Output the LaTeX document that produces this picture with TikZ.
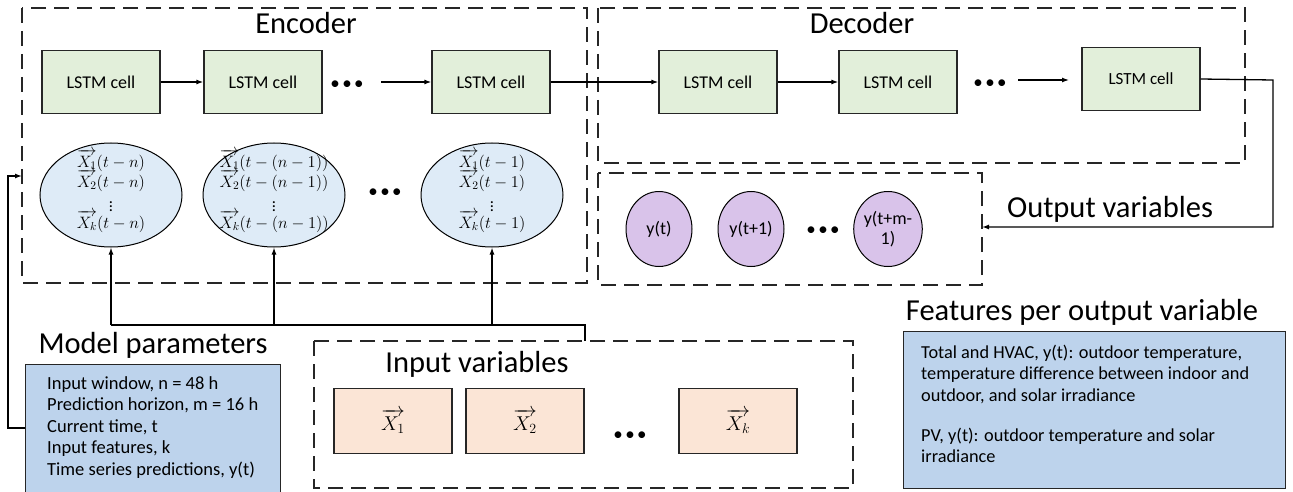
\RequirePackage{fix-cm}
\documentclass[tikz,border=0pt]{standalone}
\usepackage{amsmath}
\usepackage{fontspec}
\setmainfont{Carlito}
\usetikzlibrary{arrows.meta,shapes.geometric}
\definecolor{cellgreen}{HTML}{E2EFDA}
\definecolor{ellblue}{HTML}{DEEBF7}
\definecolor{outpurple}{HTML}{D9C3EA}
\definecolor{inpeach}{HTML}{FBE5D6}
\definecolor{boxblue}{HTML}{BDD3EC}
\definecolor{linegray}{HTML}{262626}
\newcommand{\vx}[1]{\overrightarrow{X_{#1}}}
\newcommand{\threedots}{\textbullet\hspace{2.5pt}\textbullet\hspace{2.5pt}\textbullet}
\newcommand{\elltext}[1]{$\vx1#1$\\$\vx2#1$\\[4pt]$\vdots$\\[-3pt]$\vx{k}#1$}
\tikzset{
  dashbox/.style={draw=linegray,line width=1.2pt,dash pattern=on 15pt off 8pt},
  cell/.style={draw=linegray,line width=1.2pt,fill=cellgreen,minimum width=118pt,minimum height=63pt,font=\fontsize{18}{21}\selectfont,inner sep=0pt},
  inbox/.style={draw=linegray,line width=1.2pt,fill=inpeach,minimum width=118pt,minimum height=65pt,inner sep=0pt,font=\fontsize{20}{22}\selectfont},
  ell/.style={ellipse,draw=black,line width=1pt,fill=ellblue,minimum width=142pt,minimum height=104pt,inner sep=0pt},
  elltxt/.style={inner sep=0pt,align=center,font={\fontsize{16.5}{20}\selectfont\lineskiplimit=-30pt}},
  outell/.style={ellipse,draw=black,line width=1pt,fill=outpurple,minimum width=66pt,minimum height=75pt,inner sep=0pt,align=center,font=\fontsize{18}{20}\selectfont},
  title/.style={font=\fontsize{30.5}{34}\selectfont,inner sep=0pt},
  dots/.style={font=\fontsize{19}{19}\selectfont,inner sep=0pt},
  conn/.style={line width=1.3pt,draw=black,-{Latex[length=7pt,width=5pt]}},
  plain/.style={line width=1.3pt,draw=black},
  infobox/.style={draw=linegray,line width=1.2pt,fill=boxblue,inner sep=0pt}
}
\begin{document}
\begin{tikzpicture}[x=1pt,y=-1pt]
\useasboundingbox (0,0) rectangle (1293,492);
% dashed frames
\draw[dashbox] (22,8) rectangle (587,283);
\draw[dashbox] (598,8) rectangle (1245,163);
\draw[dashbox] (598,173) rectangle (982,285);
\draw[dashbox] (314,341) rectangle (853,488);
% titles
\node[title] (tenc) at (306,23) {Encoder};
\node[title] (tdec) at (862,23) {Decoder};
\node[title] (tout) at (1110,209) {Output variables};
\node[title] (tin) at (477,364) {Input variables};
\node[title] (tmod) at (153,345) {Model parameters};
\node[title] (tfeat) at (1082,312) {Features per output variable};
% encoder cells
\node[cell] (e1) at (101,82) {LSTM cell};
\node[cell] (e2) at (263,82) {LSTM cell};
\node[cell] (e3) at (491,82) {LSTM cell};
\node[dots] (edots) at (347,85) {\threedots};
% decoder cells
\node[cell] (d1) at (718,82) {LSTM cell};
\node[cell] (d2) at (898,82) {LSTM cell};
\node[cell,font=\fontsize{17}{20}\selectfont] (d3) at (1141,79) {LSTM cell};
\node[dots] (ddots) at (990,84) {\threedots};
% ellipses
\node[ell] (x1) at (111,195) {};
\node[ell] (x2) at (274,195) {};
\node[ell] (x3) at (492,195) {};
\node[elltxt] (x1t) at (111,191) {\elltext{(t-n)}};
\node[elltxt] (x2t) at (274,191) {\elltext{(t-(n-1))}};
\node[elltxt] (x3t) at (492,191) {\elltext{(t-1)}};
\node[dots] (xdots) at (385,193) {\threedots};
% outputs
\node[outell] (y1) at (659,229) {y(t)};
\node[outell] (y2) at (751,229) {y(t+1)};
\node[outell] (y3) at (888,229) {y(t+m-\\1)};
\node[dots] (ydots) at (823,231) {\threedots};
% inputs
\node[inbox] (i1) at (393,421) {$\vx1$};
\node[inbox] (i2) at (525,421) {$\vx2$};
\node[inbox] (i3) at (738,421) {$\vx{k}$};
\node[dots] (idots) at (630,436) {\threedots};
% info boxes
\node[infobox,minimum width=255pt,minimum height=130pt,anchor=north west] (mod) at (25,364) {};
\node[anchor=north west,inner sep=0pt,align=left,font=\fontsize{18.5}{21.6}\selectfont] (modtxt) at (47,376) {Input window, n = 48 h\\Prediction horizon, m = 16 h\\Current time, t\\Input features, k\\Time series predictions, y(t)};
\node[infobox,minimum width=382pt,minimum height=157pt,anchor=north west] (feat) at (903,331) {};
\node[anchor=north west,inner sep=0pt,align=left,font=\fontsize{18.3}{21.3}\selectfont] (feattxt) at (921,345) {Total and HVAC, y(t): outdoor temperature,\\temperature difference between indoor and\\outdoor, and solar irradiance\\[19pt]PV, y(t): outdoor temperature and solar\\irradiance};
% connectors
\coordinate (ea) at (381,82);
\coordinate (da) at (1018,80);
\coordinate (db) at (1069,80);
\draw[conn] (e1) -- (e2);
\draw[conn] (ea) -- (e3);
\draw[conn] (e3) -- (d1);
\draw[conn] (d1) -- (d2);
\draw[conn] (da) -- (db);
\coordinate (oc) at (1273,80);
\coordinate (od) at (1273,227);
\coordinate (oe) at (982,227);
\draw[conn] (d3.east) -- (oc) -- (od) -- (oe);
\coordinate (ma) at (8,428);
\coordinate (mb) at (8,176);
\coordinate (mc) at (22,176);
\draw[conn] (mod.west |- ma) -- (ma) -- (mb) -- (mc);
\coordinate (ia) at (585,341);
\coordinate (ib) at (585,325);
\coordinate (ic) at (111,325);
\draw[plain] (ia) -- (ib) -- (ic);
\draw[conn] (ic) -- (x1.south);
\draw[conn] (x2.south |- ib) -- (x2.south);
\draw[conn] (x3.south |- ib) -- (x3.south);
\end{tikzpicture}
\end{document}
